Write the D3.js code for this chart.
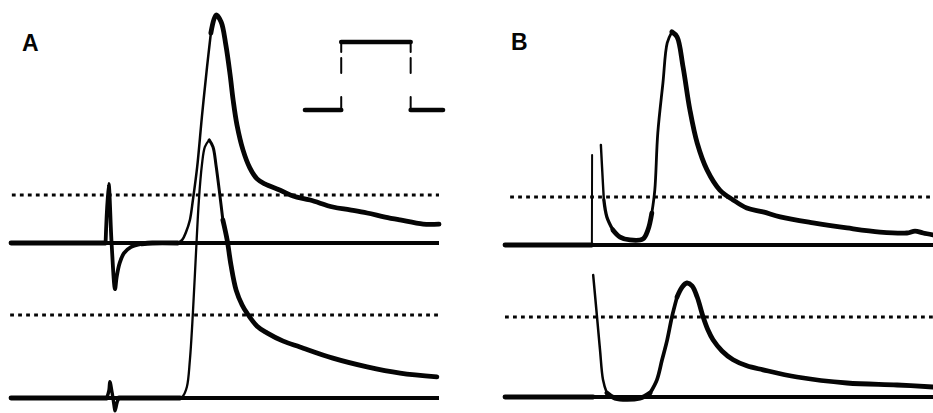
<!DOCTYPE html>
<html>
<head>
<meta charset="utf-8">
<script src="https://cdn.jsdelivr.net/npm/d3@7"></script>
<style>
  html, body { margin: 0; padding: 0; background: #fff; }
  svg { display: block; }
</style>
</head>
<body>
<svg id="chart" width="933" height="413"></svg>
<script>
// Intracellular sweeps: [time (ms), potential (mV above rest)]; null breaks the trace.
const sweepA1 = [
  [0, 0], [22.1, 0], [22.8, 24.6], [23.5, 0], [24.3, -19.2], [24.7, -14], [25.4, -8.3],
  [26.4, -4.2], [28, -1.7], [30.5, -0.4], [33, 0],
  [39.0, 0], [40.0, 1.3], [40.9, 4.6], [41.8, 9.6], [42.5, 17.9], [43.5, 31.7], [44.6, 52.5],
  [45.8, 73.3], [46.7, 87.5], [47.9, 95], [49.1, 92.1], [50.2, 82.5], [51.2, 70], [51.9, 59.6],
  [52.8, 49.2], [54.2, 38.8], [55.8, 31.3], [57.5, 26.7], [59.3, 24.6], [62.9, 22], [65.9, 19.6],
  [69.9, 17.9], [75.2, 15], [79.2, 13.8], [83.2, 12.5], [87.4, 10.8], [90.9, 9.6], [96.3, 7.9], [100, 7.9]
];
const sweepA2 = [
  [0, 0], [22.4, 0], [22.9, 1.9], [23.1, 3.9], [23.6, 1.4], [24.1, -1.9], [24.3, -3.1], [24.8, -1], [25.2, 0],
  [39.5, 0], [40.2, 0.5], [41.1, 2.7], [41.8, 9.2], [42.5, 20.5], [43.2, 34.5], [43.9, 47.7], [44.6, 56.1],
  [45.3, 60.5], [46.3, 62.2], [47.2, 60.5], [47.9, 56.1], [48.8, 48.9], [49.5, 42.9], [50.5, 38.1],
  [51.4, 32], [52.6, 26], [54, 22.4], [55.1, 20.5], [57.5, 17.3], [59.8, 15.7], [63.6, 13.7], [67.5, 12.3],
  [75.2, 9.6], [83.2, 7.5], [90.9, 6], [99.5, 5.1]
];
const sweepB1 = [
  [0, 0], [20.3, 0], [20.35, 37.5], null,
  [22.4, 41.7], [22.9, 25], [23.1, 18.8], [23.8, 11.7], [25.2, 6.3], [26.9, 3.3], [29.2, 2.1],
  [32.2, 2.5], [33.4, 6.3], [34.3, 13.3], [35.0, 22.9], [35.7, 46.7], [36.9, 67.5], [37.9, 84.2],
  [39.0, 88.8], [40.2, 86.7], [41.6, 74.2], [43.2, 56.3], [44.9, 42.5], [47.2, 31.3], [50.2, 22.9],
  [53.3, 18.8], [56.5, 15.4], [60.3, 13.8], [64.3, 11.7], [72.0, 9.2], [79.9, 7.1], [87.6, 5.4],
  [93.9, 5.0], [95.8, 5.8], [97.7, 5.0], [100, 4.2]
];
const sweepB2 = [
  [0, 0], [20.6, 0], null,
  [20.6, 30.5], [21.5, 20], [22.2, 11.8], [22.9, 4.3], [23.8, 1], [25.7, -0.3], [31.5, -0.3],
  [33.9, 1], [35.5, 4.3], [36.7, 9.3], [37.9, 14.3], [39.0, 20], [40.2, 25], [41.4, 27.5],
  [42.5, 28.5], [43.7, 27.8], [44.9, 25], [46.3, 20], [47.4, 16.8], [48.6, 14.3], [50.7, 11.5],
  [53.3, 9.3], [56.5, 7.8], [60.3, 6.8], [68.2, 5], [79.9, 3.5], [91.6, 3], [100, 2.5]
];

// Reference (dotted) level in mV and the sweep duration in ms
const refLevel = 20;
const sweepSpan = [0, 100];

// Command pulse shown as an inset
const pulseTimes = [0, 8.4, 8.4, 24.5, 24.5, 32];
const pulseLevels = [0, 0, 1, 1, 0, 0];

const panelLabels = ["A", "B"];

// ---- layout ----
const ink = "#050505";
const svg = d3.select("#chart");

const panels = [
  {
    label: panelLabels[0], range: [11, 439], labelAt: [22, 51],
    rows: [
      { sweep: sweepA1, base: 243, ref: 195, refFrom: 0.2,
        widths: [[21.9, 31, 3.8], [38.8, 47.3, 2.5]] },
      { sweep: sweepA2, base: 398, ref: 315, refFrom: -0.2,
        widths: [[22, 26, 3.4], [39.8, 46.0, 2.3], [46.0, 50.0, 3.0]] }
    ]
  },
  {
    label: panelLabels[1], range: [505, 933], labelAt: [511, 50],
    rows: [
      { sweep: sweepB1, base: 245, ref: 197, refFrom: 1.2,
        widths: [[20, 21, 2.0], [22.3, 23.4, 2.4], [23.4, 25.3, 3.3], [34.2, 38.6, 2.8]] },
      { sweep: sweepB2, base: 397, ref: 317, refFrom: 0,
        widths: [[20.5, 23.4, 2.5], [33.8, 40.0, 3.7]] }
    ]
  }
];

const thick = 4.8;

function drawSweep(g, data, x, y, widths) {
  const widthAt = t => {
    for (const [a, b, w] of widths) if (t >= a && t < b) return w;
    return thick;
  };
  const runs = [];
  let cur = null, prev = null;
  data.forEach(d => {
    if (!d) { cur = null; prev = null; return; }
    if (prev) {
      const w = widthAt((prev[0] + d[0]) / 2);
      if (!cur || cur.w !== w) { cur = { w, pts: [prev] }; runs.push(cur); }
      cur.pts.push(d);
    }
    prev = d;
  });
  const line = d3.line()
    .x(d => x(d[0]))
    .y(d => y(d[1]))
    .curve(d3.curveCatmullRom.alpha(0.5));
  runs.forEach(r => {
    g.append("path")
      .attr("d", line(r.pts))
      .attr("fill", "none")
      .attr("stroke", ink)
      .attr("stroke-width", r.w)
      .attr("stroke-linecap", "round")
      .attr("stroke-linejoin", "round");
  });
}

panels.forEach(p => {
  const g = svg.append("g");
  const x = d3.scaleLinear().domain(sweepSpan).range(p.range);

  g.append("text")
    .attr("x", p.labelAt[0]).attr("y", p.labelAt[1])
    .attr("font-family", "'Liberation Sans', Arial, sans-serif")
    .attr("font-weight", "bold")
    .attr("font-size", 23)
    .attr("fill", ink)
    .text(p.label);

  p.rows.forEach(r => {
    const y = d3.scaleLinear().domain([0, refLevel]).range([r.base, r.ref]);

    // dotted reference level
    g.append("line")
      .attr("x1", x(r.refFrom)).attr("x2", x(sweepSpan[1]))
      .attr("y1", y(refLevel)).attr("y2", y(refLevel))
      .attr("stroke", ink).attr("stroke-width", 3.2)
      .attr("stroke-dasharray", "3.8,4.2");

    // zero (resting) level
    g.append("line")
      .attr("x1", x(sweepSpan[0])).attr("x2", x(sweepSpan[1]))
      .attr("y1", y(0)).attr("y2", y(0))
      .attr("stroke", ink).attr("stroke-width", 3.8);

    drawSweep(g, r.sweep, x, y, r.widths);
  });
});

// ---- inset: command pulse ----
const px = d3.scaleLinear().domain([0, 32]).range([305, 443]);
const py = d3.scaleLinear().domain([0, 1]).range([110, 42]);
const inset = svg.append("g");
for (let i = 1; i < pulseTimes.length; i++) {
  const t0 = pulseTimes[i - 1], t1 = pulseTimes[i];
  const v0 = pulseLevels[i - 1], v1 = pulseLevels[i];
  const vertical = t0 === t1;
  const seg = inset.append("line")
    .attr("stroke", ink)
    .attr("stroke-linecap", "round");
  if (vertical) {
    seg.attr("x1", px(t0)).attr("x2", px(t1))
      .attr("y1", py(Math.max(v0, v1))).attr("y2", py(Math.min(v0, v1)))
      .attr("stroke-width", 2.0).attr("stroke-dasharray", "10,6,15,24,13");
  } else {
    seg.attr("x1", px(t0)).attr("x2", px(t1))
      .attr("y1", py(v0)).attr("y2", py(v1))
      .attr("stroke-width", 4.6);
  }
}
</script>
</body>
</html>
